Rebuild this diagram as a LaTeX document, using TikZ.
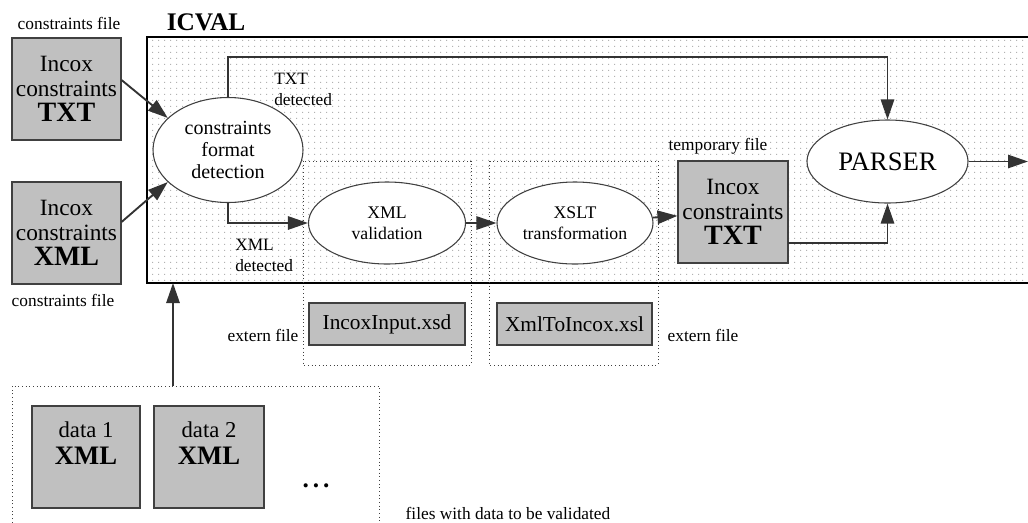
\documentclass[tikz,border=0pt]{standalone}
\usepackage{fontspec}
\setmainfont{Liberation Serif}
\usetikzlibrary{shapes.geometric,arrows.meta,patterns}
\pgfdeclarepatternformonly{icdots}{\pgfpointorigin}{\pgfqpoint{4.5pt}{4.5pt}}{\pgfqpoint{4.5pt}{4.5pt}}{\pgfpathrectangle{\pgfqpoint{1.8pt}{1.8pt}}{\pgfqpoint{0.9pt}{0.9pt}}\pgfusepath{fill}}
\definecolor{boxgray}{HTML}{C0C0C0}
\definecolor{edgegray}{HTML}{404040}
\begin{document}
\begin{tikzpicture}[x=0.75pt,y=-0.75pt,
  filebox/.style={draw=edgegray,line width=0.8pt,fill=boxgray,inner sep=0pt,align=center},
  proc/.style={ellipse,draw=edgegray,line width=0.8pt,fill=white,inner sep=0pt,align=center},
  grp/.style={draw=black!75,dotted,line width=0.75pt},
  arr/.style={draw=black!80,line width=1.4pt,-{Triangle[length=15pt,width=10pt]}},
  lbl/.style={inner sep=0pt,font=\fontsize{13}{15.75}\selectfont},
]
\useasboundingbox (0,0) rectangle (1028,522);
% main ICVAL area
\path[pattern=icdots,pattern color=gray!60] (147,37) rectangle (1028,283);
\draw[line width=1.1pt] (1028,37) -- (147,37) -- (147,283) -- (1028,283);
% dotted groups
\draw[grp] (303,161) rectangle (471,365);
\draw[grp] (489,161) rectangle (658,365);
\draw[grp] (12,530) -- (12,386) -- (379,386) -- (379,530);
\coordinate (dtop) at (173,386);
\coordinate (mbot) at (173,283);

% file boxes
\node[filebox,minimum width=81.75pt,minimum height=76.5pt,font=\fontsize{17.5}{19}\selectfont] (txt) at (66.5,89) {Incox\\constraints\\{\fontsize{21}{19}\selectfont\bfseries TXT}};
\node[filebox,minimum width=81.75pt,minimum height=76.5pt,font=\fontsize{17.5}{19}\selectfont] (xml) at (66.5,233) {Incox\\constraints\\{\fontsize{21}{19}\selectfont\bfseries XML}};
\node[filebox,minimum width=82.5pt,minimum height=76.5pt,font=\fontsize{17.5}{19}\selectfont] (tmp) at (733,212) {Incox\\constraints\\{\fontsize{21}{19}\selectfont\bfseries TXT}};
\node[filebox,minimum width=117pt,minimum height=31.5pt,font=\fontsize{16}{18}\selectfont] (xsd) at (387,324) {IncoxInput.xsd};
\node[filebox,minimum width=116.25pt,minimum height=31.5pt,font=\fontsize{16}{18}\selectfont] (xsl) at (574.5,324) {XmlToIncox.xsl};
\node[filebox,minimum width=81pt,minimum height=76.5pt] (data1) at (86,457) {};
\node[filebox,minimum width=82.5pt,minimum height=76.5pt] (data2) at (209,457) {};
\node[inner sep=0pt,align=center,font=\fontsize{17}{20}\selectfont] (d1t) at (86,443) {data 1\\{\fontsize{20}{20}\selectfont\bfseries XML}};
\node[inner sep=0pt,align=center,font=\fontsize{17}{20}\selectfont] (d2t) at (209,443) {data 2\\{\fontsize{20}{20}\selectfont\bfseries XML}};
\node[font=\fontsize{19}{20}\selectfont\bfseries,inner sep=0pt,anchor=base] (dots) at (316,487) {.\hspace{3pt}.\hspace{3pt}.};

% processes
\node[proc,minimum width=112.5pt,minimum height=78.75pt,font=\fontsize{15}{16.5}\selectfont] (cfd) at (228,150) {constraints\\format\\detection};
\node[proc,minimum width=117.75pt,minimum height=61.5pt,font=\fontsize{13.3}{15.75}\selectfont] (xmlv) at (387,223) {XML\\validation};
\node[proc,minimum width=117pt,minimum height=61.5pt,font=\fontsize{13.3}{15.75}\selectfont] (xslt) at (575,223) {XSLT\\transformation};
\node[proc,minimum width=120.75pt,minimum height=62.25pt,font=\fontsize{20}{22}\selectfont] (parser) at (887.5,161.5) {PARSER};

% labels
\node[lbl] (lcf1) at (69,23) {constraints file};
\node[inner sep=0pt,font=\fontsize{19}{22}\selectfont\bfseries] (title) at (206,22) {ICVAL};
\node[lbl] (lcf2) at (63,300) {constraints file};
\node[lbl,align=left,anchor=west] (ltxt) at (274,89) {TXT\\detected};
\node[lbl,align=left,anchor=west] (lxml) at (235,255) {XML\\detected};
\node[lbl] (ltmp) at (718,146) {temporary file};
\node[lbl] (lext1) at (263,335) {extern file};
\node[lbl] (lext2) at (703,335) {extern file};
\node[lbl] (lfiles) at (508,513) {files with data to be validated};

% connectors
\draw[arr] ([yshift=6.75pt]txt.east) -- (cfd.152);
\draw[arr] ([yshift=8.25pt]xml.east) -- (cfd.208);
\draw[arr] (cfd.north) -- ++(0,-40) -| (parser.north);
\draw[arr] (cfd.south) |- (xmlv.west);
\draw[arr] (xmlv) -- (xslt);
\draw[arr] (xslt) -- (tmp);
\coordinate (tmpout) at (788,243);
\draw[arr] (tmpout) -| (parser.south);
\coordinate (pout) at (1028,161.5);
\draw[arr] (parser) -- (pout);
\draw[arr] (dtop) -- (mbot);
\end{tikzpicture}
\end{document}
